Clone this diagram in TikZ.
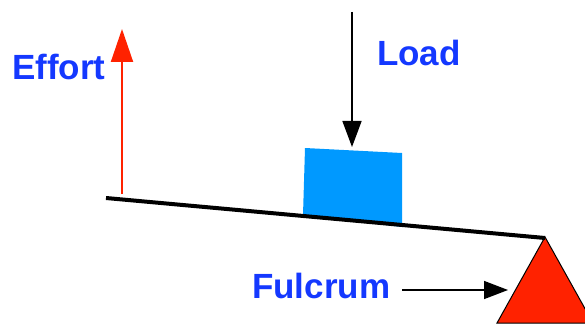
\documentclass[tikz,border=0pt]{standalone}
\usepackage{fontspec}
\setmainfont{Liberation Sans}
\usetikzlibrary{arrows.meta}
\definecolor{lblblue}{RGB}{20,56,255}
\definecolor{boxblue}{RGB}{0,153,255}
\definecolor{effred}{RGB}{255,34,0}
\begin{document}
\begin{tikzpicture}[x=1pt,y=1pt,
  lbl/.style={text=lblblue,font=\fontsize{35}{35}\selectfont\bfseries,inner sep=0pt,anchor=base west},
  lever/.style={line width=4pt,black},
  effortarrow/.style={effred,line width=2pt,-{Triangle[length=33pt,width=22pt]}},
  loadarrow/.style={black,line width=1.5pt,-{Triangle[length=26pt,width=19pt]}},
  fulcarrow/.style={black,line width=1.5pt,-{Triangle[length=24pt,width=18pt]}}]
\useasboundingbox (0,0) rectangle (585,327);
\begin{scope}
\clip (0,0) rectangle (585,327);
% load box
\fill[boxblue] (303,112) -- (305,179) -- (402,174) -- (402,100) -- cycle;
% fulcrum
\filldraw[fill=effred,draw=black,line width=1pt] (545,90) -- (497,4) -- (593,4) -- cycle;
\end{scope}
% lever
\coordinate (levl) at (106,129);
\coordinate (levr) at (545,89);
\draw[lever] (levl) -- (levr);
% labels
\node[lbl] (effort) at (12,247) {Effort};
\node[lbl] (load) at (377,261) {Load};
\node[lbl] (fulcrum) at (252,29) {Fulcrum};
% arrows
\coordinate (ea) at (122,133);
\coordinate (eb) at (122,298);
\draw[effortarrow] (ea) -- (eb);
\coordinate (la) at (352,315);
\coordinate (lb) at (352,180);
\draw[loadarrow] (la) -- (lb);
\coordinate (fa) at (402,37);
\coordinate (fb) at (508,37);
\draw[fulcarrow] (fa) -- (fb);
\end{tikzpicture}
\end{document}
